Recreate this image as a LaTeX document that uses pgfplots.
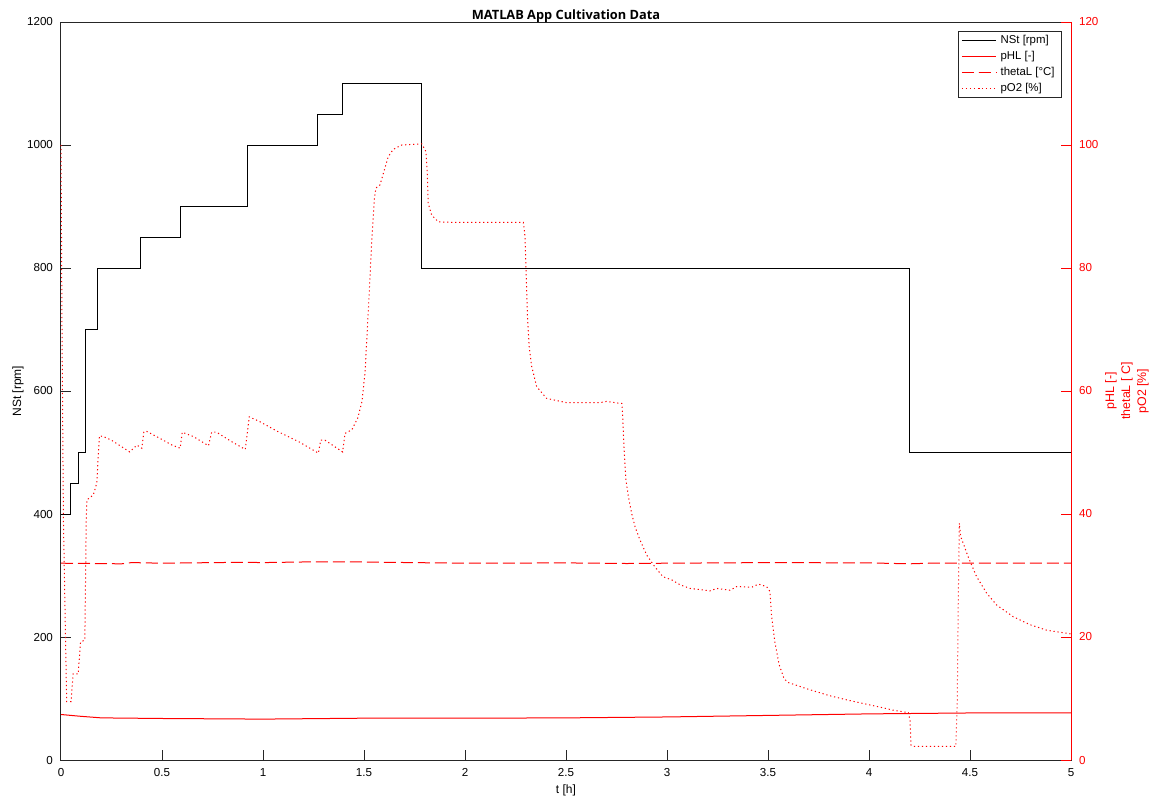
\documentclass[border=0pt]{standalone}
\usepackage{fontspec}
\setmainfont{Liberation Sans}
\newfontfamily\titlefont{Open Sans}
\usepackage{pgfplots}
\pgfplotsset{compat=1.18}
\definecolor{axgray}{gray}{0.15}
\definecolor{mred}{rgb}{1,0,0}
\begin{document}
\begin{tikzpicture}
\pgfplotsset{
  base/.style={
    width=505pt, height=369pt, scale only axis,
    xmin=0, xmax=5, clip=false,
    tick align=inside, major tick length=5pt,
    /pgf/number format/assume math mode=true,
    /pgf/number format/1000 sep={},
    tick label style={font=\fontsize{5.8}{7}\selectfont},
    every axis plot/.append style={line width=0.5pt},
  }
}
\begin{axis}[base,
  ymin=0, ymax=1200,
  xtick={0,0.5,1,1.5,2,2.5,3,3.5,4,4.5,5},
  xticklabels={0,0.5,1,1.5,2,2.5,3,3.5,4,4.5,5},
  ytick={0,200,400,600,800,1000,1200},
  xtick pos=bottom, ytick pos=left,
  axis line style={axgray, line width=0.5pt},
  tick style={axgray, line width=0.5pt},
  xticklabel style={yshift=-0.5pt},
  yticklabel style={xshift=-0.5pt},
]
\addplot[black, const plot] coordinates {
(0,400) (0.0495,450) (0.089,500) (0.119,700) (0.18,800) (0.396,850) (0.594,900) (0.921,1000) (1.272,1050) (1.396,1100) (1.784,800) (4.198,500) (5,500)
};
\coordinate (bl) at (rel axis cs:0,0);
\coordinate (tr) at (rel axis cs:1,1);
\node[font=\fontsize{6}{7}\selectfont, anchor=center] at ([yshift=-15pt]rel axis cs:0.5,0) {t [h]};
\node[font=\fontsize{6}{7}\selectfont, anchor=center, rotate=90] at ([xshift=-21.5pt]rel axis cs:0,0.5) {NSt [rpm]};
\node[font=\titlefont\bfseries\fontsize{6.4}{8}\selectfont, anchor=base] at ([yshift=1.5pt]rel axis cs:0.5,1) {MATLAB App Cultivation Data};
\end{axis}
\begin{axis}[base,
  ymin=0, ymax=120,
  axis x line=none, axis y line*=right,
  ytick={0,20,40,60,80,100,120},
  y axis line style={mred, line width=0.5pt},
  ytick style={mred, line width=0.5pt},
  yticklabel style={mred, xshift=0.5pt},
  legend image post style={line width=0.65pt},
  legend style={at={(rel axis cs:1,1)}, anchor=north east, xshift=-4.5pt, yshift=-4.5pt,
    font=\fontsize{5.7}{6.5}\selectfont, draw=axgray,
    inner xsep=1.5pt, inner ysep=1.2pt, row sep=1.4pt, cells={anchor=west},
    nodes={inner ysep=0.5pt, inner xsep=2pt}},
]
\addlegendimage{black}
\addlegendentry{NSt [rpm]}
\addplot[mred] coordinates {
(0,7.4) (0.1,7.1) (0.2,6.85) (0.5,6.75) (1,6.65) (1.5,6.8) (2,6.8) (2.5,6.85) (3,7.0) (3.5,7.25) (4,7.5) (4.5,7.65) (5,7.65)
};
\addlegendentry{pHL [-]}
\addplot[mred, dash pattern=on 6pt off 2.5pt] coordinates {
(0,32) (0.3,31.9) (0.35,32.1) (0.5,32) (0.9,32.15) (1.0,32.1) (1.2,32.2) (1.5,32.2) (1.6,32.15) (2.0,32) (2.5,32.05) (2.8,31.95) (3.0,32) (3.5,32.1) (4.0,32.05) (4.2,31.9) (4.3,32) (5,32)
};
\addlegendentry{thetaL [°C]}
\addplot[mred, dash pattern=on 0.6pt off 1.4pt] coordinates {
(0,100) (0.005,70) (0.012,39) (0.028,9.5) (0.05,9.5) (0.06,14) (0.085,14) (0.097,19.2) (0.118,19.5) (0.125,39) (0.128,42.3) (0.16,43.1) (0.177,45) (0.19,52.7) (0.21,52.6) (0.25,52.0) (0.34,50.1) (0.376,51.2) (0.40,50.7) (0.41,53.3) (0.42,53.5) (0.49,52.3) (0.55,51.2) (0.59,50.7) (0.60,53.3) (0.655,52.6) (0.73,51.1) (0.746,53.3) (0.77,53.3) (0.853,51.6) (0.912,50.5) (0.932,55.8) (0.985,55.0) (1.068,53.5) (1.18,51.7) (1.274,49.9) (1.286,52.0) (1.307,52.0) (1.394,50.1) (1.406,53.1) (1.44,53.7) (1.469,55.6) (1.49,58.3) (1.505,63) (1.52,72.1) (1.533,80.8) (1.54,85.4) (1.551,91.1) (1.559,93.0) (1.579,93.5) (1.596,95.4) (1.62,98.1) (1.645,99.3) (1.687,100) (1.786,100.2) (1.807,98.9) (1.813,95.4) (1.818,90.5) (1.835,88.6) (1.868,87.5) (1.967,87.4) (2.289,87.4) (2.297,85.1) (2.302,79.7) (2.31,71.5) (2.318,67.2) (2.33,64.0) (2.355,60.7) (2.404,58.8) (2.503,58.1) (2.668,58.1) (2.70,58.3) (2.767,58.0) (2.776,58) (2.78,56.4) (2.787,50.9) (2.797,45.5) (2.809,42.8) (2.825,40.1) (2.842,37.9) (2.866,35.8) (2.9,33.3) (2.94,31.4) (2.98,29.8) (3.023,29.3) (3.064,28.5) (3.114,27.9) (3.213,27.5) (3.246,27.9) (3.312,27.6) (3.345,28.2) (3.42,28.1) (3.452,28.6) (3.493,28.2) (3.51,27.4) (3.518,23.3) (3.535,19) (3.555,15.5) (3.58,13.2) (3.6,12.6) (3.7,11.5) (3.8,10.5) (3.9,9.7) (4.054,8.6) (4.12,8.1) (4.195,7.7) (4.203,6.5) (4.208,2.4) (4.22,2.2) (4.43,2.2) (4.437,9.8) (4.442,26) (4.447,38.5) (4.454,36.3) (4.467,35.2) (4.49,33.1) (4.533,29.8) (4.583,27.1) (4.632,25.2) (4.714,23.3) (4.797,22.0) (4.88,21.1) (4.98,20.6) (5,20.5)
};
\addlegendentry{pO2 [\%]}
\node[mred, rotate=90, align=center, font=\fontsize{6.2}{8}\selectfont, anchor=center] at ([xshift=28pt]rel axis cs:1,0.5) {pHL [-]\\thetaL [ C]\\pO2 [\%]};
\end{axis}
\pgfresetboundingbox
\path[use as bounding box] ([xshift=-30.5pt,yshift=-20pt]bl) rectangle ([xshift=43pt,yshift=11pt]tr);
\end{tikzpicture}
\end{document}
